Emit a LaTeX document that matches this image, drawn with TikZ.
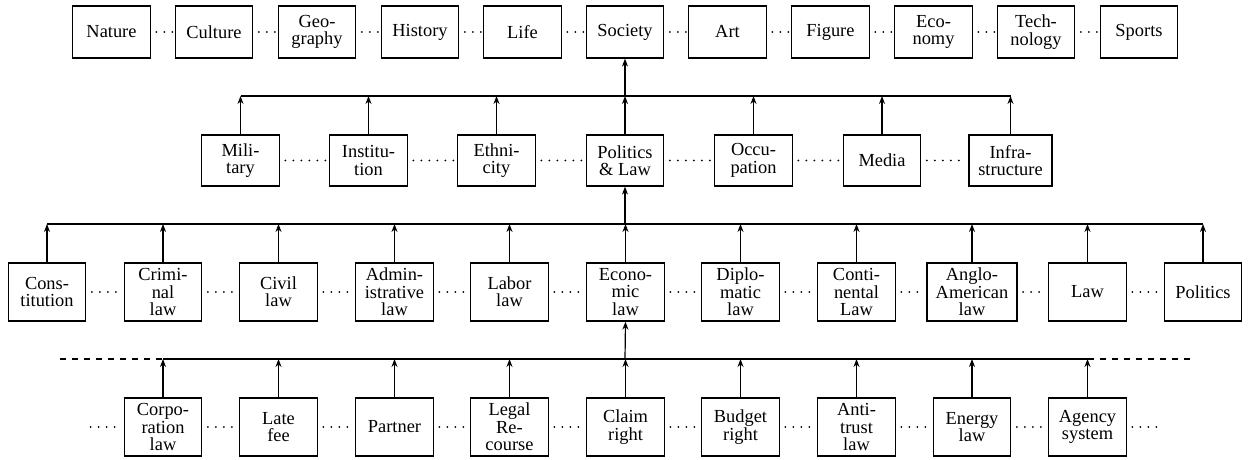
\documentclass[tikz,border=0pt]{standalone}
\usepackage{fontspec}
\setmainfont{Liberation Serif}
\usetikzlibrary{arrows.meta}

\begin{document}
\begin{tikzpicture}[x=0.5pt, y=-0.5pt,
    box/.style={draw, rectangle, align=center, inner sep=1pt, line width=0.6pt,
        minimum width=38.75pt, minimum height=29pt,
        font=\fontsize{9.2}{8.7}\selectfont},
    top/.style={box, minimum height=26pt},
    mid/.style={box, minimum height=25.5pt},
    arr/.style={-{Stealth[length=4pt,width=3pt]}, line width=0.6pt},
    bus/.style={line width=0.6pt},
    dots/.style={line width=1pt, line cap=round, dash pattern=on 0pt off 4pt,
        dash phase=1.2pt, shorten >=1pt}]
\useasboundingbox (0,0) rectangle (1248,460);

% first level
\node[top] (nat)  at (111.5,32) {Nature};
\node[top] (cul)  at (214,32)   {Culture};
\node[top] (geo)  at (317,32)   {Geo-\\graphy};
\node[top] (his)  at (420,32)   {History};
\node[top] (life) at (522.5,32) {Life};
\node[top] (soc)  at (625,32)   {Society};
\node[top] (art)  at (727.5,32) {Art};
\node[top] (fig)  at (830.5,32) {Figure};
\node[top] (eco)  at (933.5,32) {Eco-\\nomy};
\node[top] (tech) at (1036,32)  {Tech-\\nology};
\node[top] (spo)  at (1139,32)  {Sports};

% second level
\node[mid] (mil)   at (240.5,160.5)  {Mili-\\tary};
\node[mid] (inst)  at (368.5,160.5)  {Institu-\\tion};
\node[mid] (eth)   at (496.5,160.5)  {Ethni-\\city};
\node[mid] (pl)    at (625,160.5)    {Politics\\\& Law};
\node[mid] (occ)   at (753.5,160.5)  {Occu-\\pation};
\node[mid] (med)   at (882,160.5)    {Media};
\node[mid, minimum width=41.5pt] (infra) at (1010.5,160.5) {Infra-\\structure};

% third level
\node[box] (cons)  at (47,292)     {Cons-\\titution};
\node[box] (crim)  at (163,292)    {Crimi-\\nal\\law};
\node[box] (civ)   at (278.5,292)  {Civil\\law};
\node[box] (adm)   at (394.5,292)  {Admin-\\istrative\\law};
\node[box] (lab)   at (509.5,292)  {Labor\\law};
\node[box] (econ)  at (625.5,292)  {Econo-\\mic\\law};
\node[box] (dipl)  at (740.5,292)  {Diplo-\\matic\\law};
\node[box] (cont)  at (856.5,292)  {Conti-\\nental\\Law};
\node[box, minimum width=45pt] (anglo) at (972,292) {Anglo-\\American\\law};
\node[box] (law)   at (1087.5,292) {Law};
\node[box] (pol)   at (1203,292)   {Politics};

% fourth level
\node[box] (corp)  at (163,427)    {Corpo-\\ration\\law};
\node[box] (late)  at (278.5,427)  {Late\\fee};
\node[box] (part)  at (394.5,427)  {Partner};
\node[box] (legal) at (509.5,427)  {Legal\\Re-\\course};
\node[box] (claim) at (625.5,427)  {Claim\\right};
\node[box] (budg)  at (740.5,427)  {Budget\\right};
\node[box] (anti)  at (856.5,427)  {Anti-\\trust\\law};
\node[box] (ener)  at (972,427)    {Energy\\law};
\node[box] (agen)  at (1087.5,427) {Agency\\system};

% bus points
\coordinate (bus2) at (625,96);
\coordinate (bus3) at (625,224);
\coordinate (bus4) at (625,359);
\coordinate (l4) at (60,359);
\coordinate (r4) at (1190,359);
\coordinate (ld) at (85,427);
\coordinate (rd) at (1162,427);

% dotted links
\draw[dots] (nat) -- (cul);
\draw[dots] (cul) -- (geo);
\draw[dots] (geo) -- (his);
\draw[dots] (his) -- (life);
\draw[dots] (life) -- (soc);
\draw[dots] (soc) -- (art);
\draw[dots] (art) -- (fig);
\draw[dots] (fig) -- (eco);
\draw[dots] (eco) -- (tech);
\draw[dots] (tech) -- (spo);

\draw[dots] (mil) -- (inst);
\draw[dots] (inst) -- (eth);
\draw[dots] (eth) -- (pl);
\draw[dots] (pl) -- (occ);
\draw[dots] (occ) -- (med);
\draw[dots] (med) -- (infra);

\draw[dots] (cons) -- (crim);
\draw[dots] (crim) -- (civ);
\draw[dots] (civ) -- (adm);
\draw[dots] (adm) -- (lab);
\draw[dots] (lab) -- (econ);
\draw[dots] (econ) -- (dipl);
\draw[dots] (dipl) -- (cont);
\draw[dots] (cont) -- (anglo);
\draw[dots] (anglo) -- (law);
\draw[dots] (law) -- (pol);

\draw[dots] (ld) -- (corp);
\draw[dots] (corp) -- (late);
\draw[dots] (late) -- (part);
\draw[dots] (part) -- (legal);
\draw[dots] (legal) -- (claim);
\draw[dots] (claim) -- (budg);
\draw[dots] (budg) -- (anti);
\draw[dots] (anti) -- (ener);
\draw[dots] (ener) -- (agen);
\draw[dots] (agen) -- (rd);

% buses
\draw[bus] (mil.north |- bus2) -- (infra.north |- bus2);
\draw[bus] (cons.north |- bus3) -- (pol.north |- bus3);
\draw[bus] (corp.north |- bus4) -- (agen.north |- bus4);
\draw[bus, dashed] (l4) -- (corp.north |- bus4);
\draw[bus, dashed] (agen.north |- bus4) -- (r4);

% arrows up
\draw[arr] (bus2) -- (soc.south);
\draw[arr] (bus3) -- (pl.south);
\draw[arr] (bus4) -- (econ.south);

\draw[arr] (mil) -- (mil |- bus2);
\draw[arr] (inst) -- (inst |- bus2);
\draw[arr] (eth) -- (eth |- bus2);
\draw[arr] (pl) -- (pl |- bus2);
\draw[arr] (occ) -- (occ |- bus2);
\draw[arr] (med) -- (med |- bus2);
\draw[arr] (infra) -- (infra |- bus2);

\draw[arr] (cons) -- (cons |- bus3);
\draw[arr] (crim) -- (crim |- bus3);
\draw[arr] (civ) -- (civ |- bus3);
\draw[arr] (adm) -- (adm |- bus3);
\draw[arr] (lab) -- (lab |- bus3);
\draw[arr] (econ) -- (econ |- bus3);
\draw[arr] (dipl) -- (dipl |- bus3);
\draw[arr] (cont) -- (cont |- bus3);
\draw[arr] (anglo) -- (anglo |- bus3);
\draw[arr] (law) -- (law |- bus3);
\draw[arr] (pol) -- (pol |- bus3);

\draw[arr] (corp) -- (corp |- bus4);
\draw[arr] (late) -- (late |- bus4);
\draw[arr] (part) -- (part |- bus4);
\draw[arr] (legal) -- (legal |- bus4);
\draw[arr] (claim) -- (claim |- bus4);
\draw[arr] (budg) -- (budg |- bus4);
\draw[arr] (anti) -- (anti |- bus4);
\draw[arr] (ener) -- (ener |- bus4);
\draw[arr] (agen) -- (agen |- bus4);
\end{tikzpicture}
\end{document}
